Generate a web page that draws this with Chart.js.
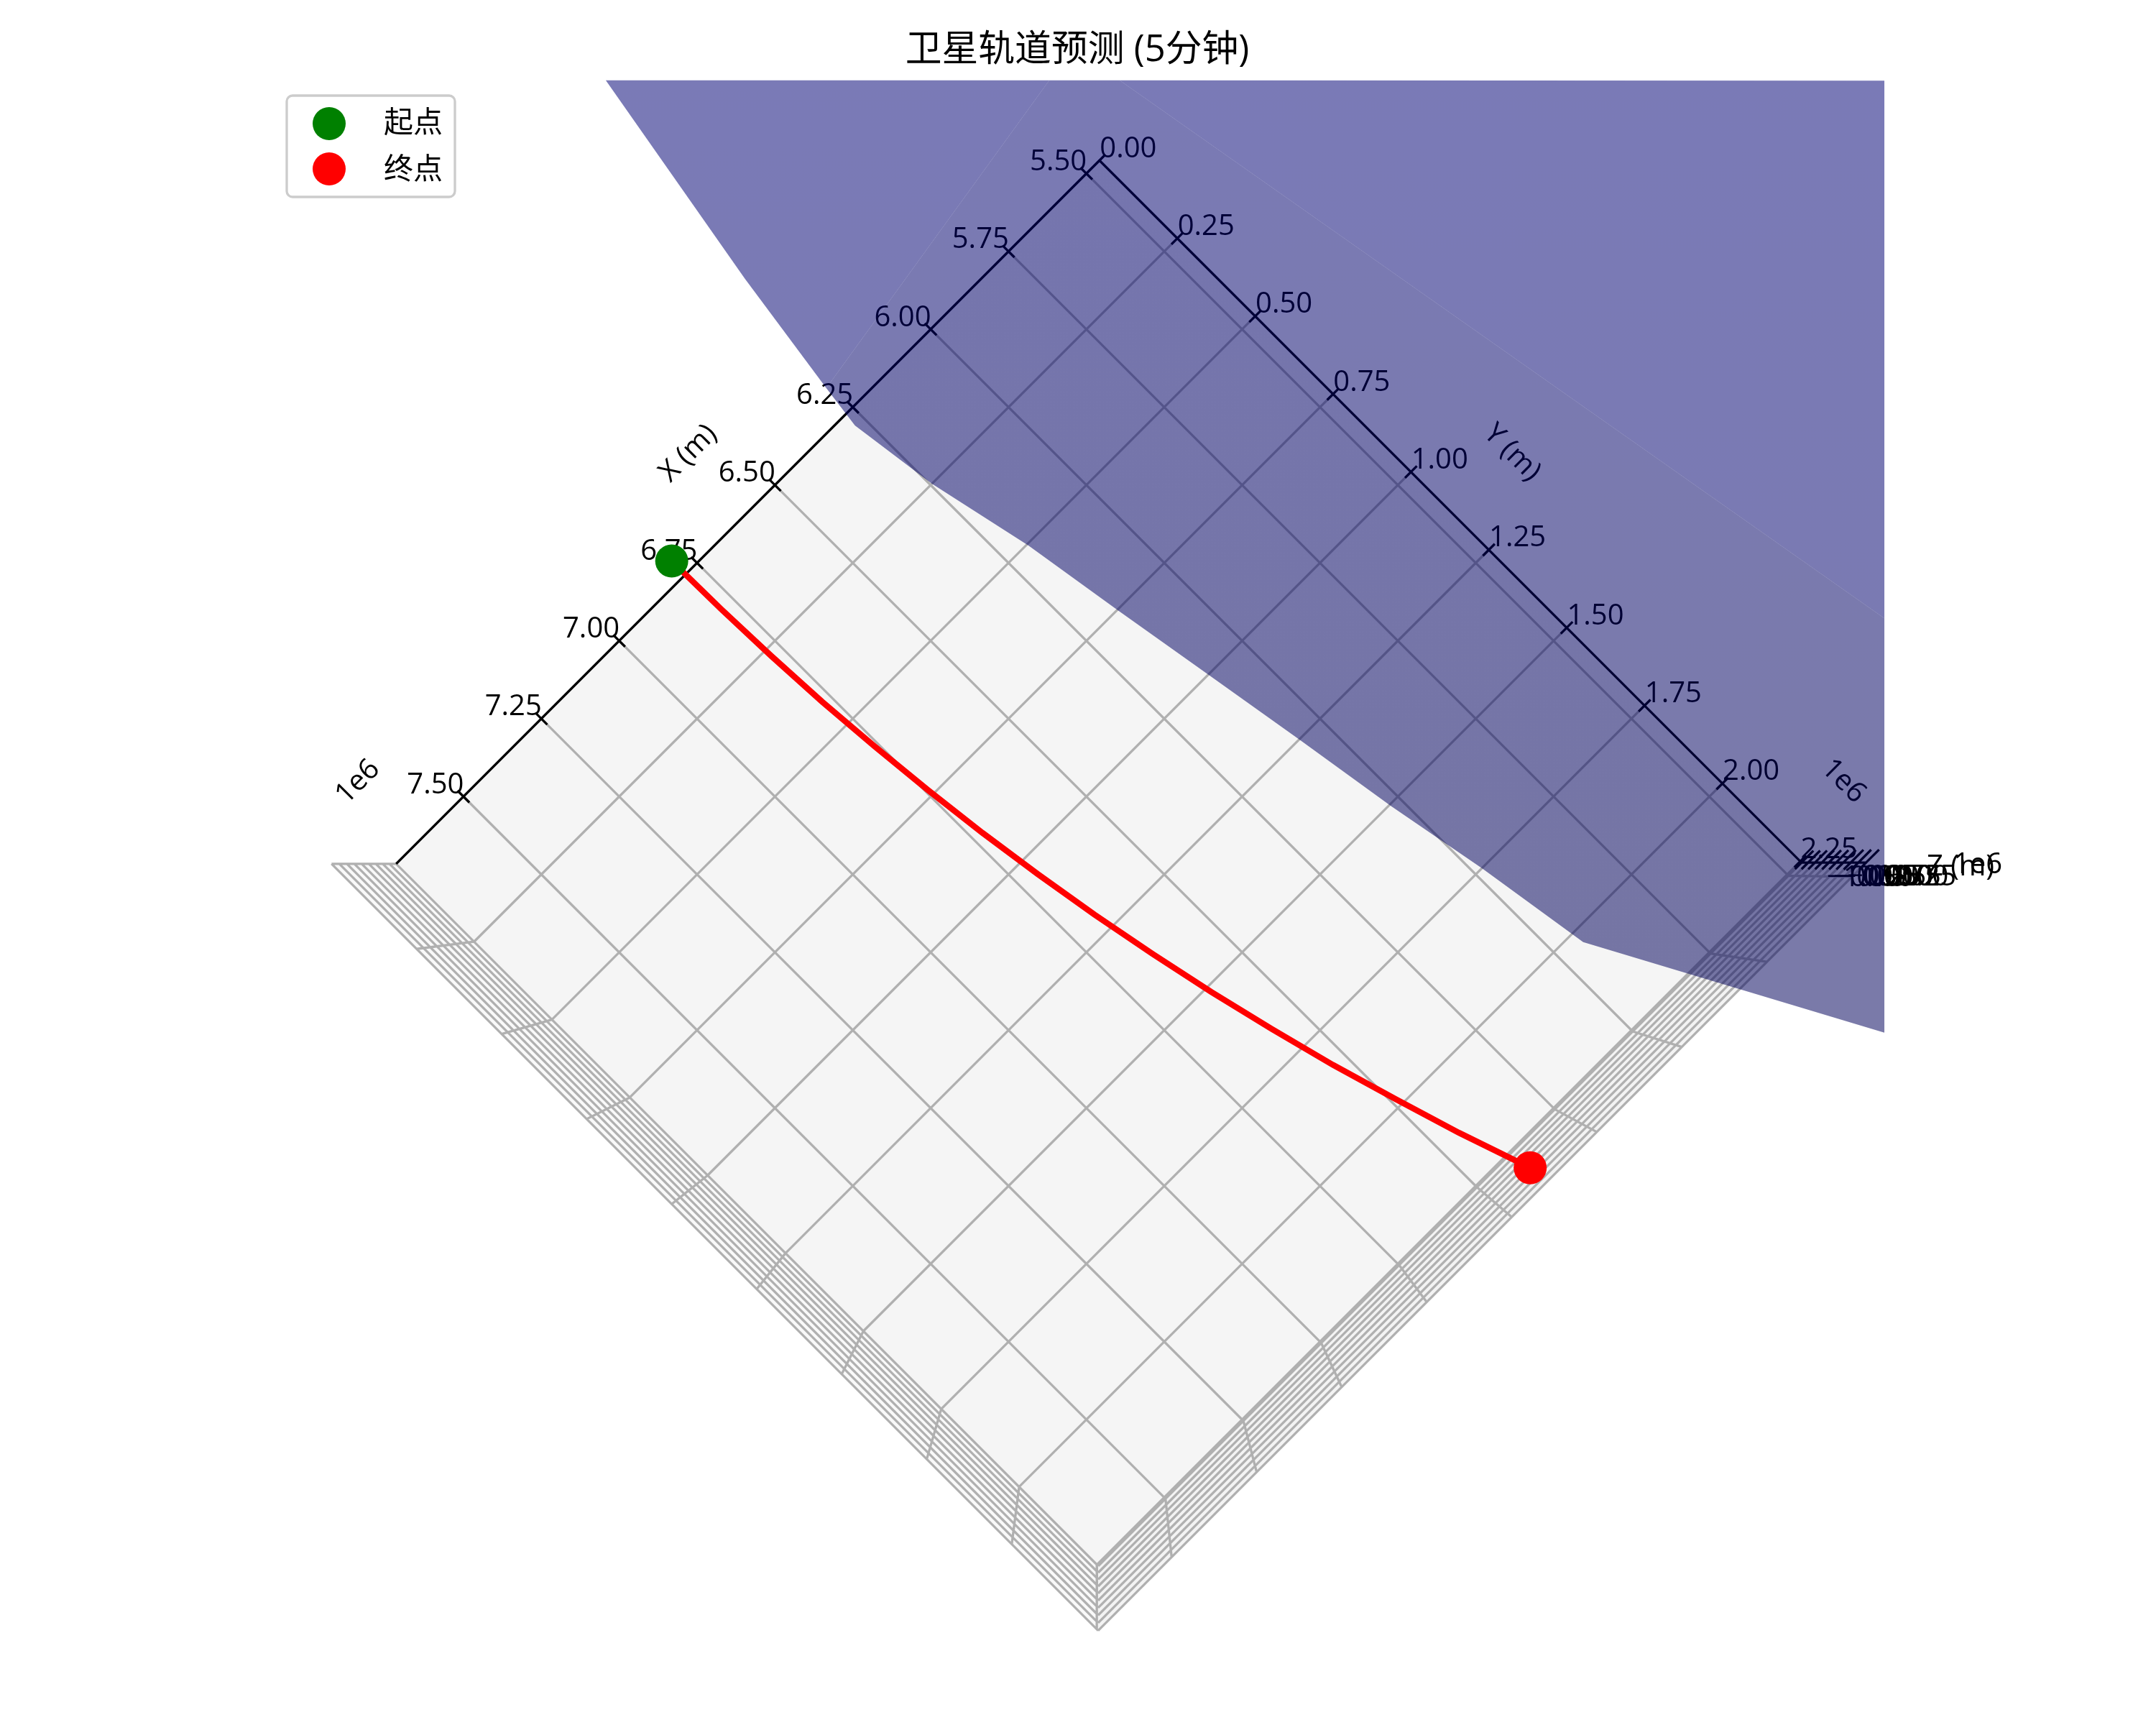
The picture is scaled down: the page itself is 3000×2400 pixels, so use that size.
<!DOCTYPE html>
<html>
<head>
<meta charset="utf-8">
<title>卫星轨道预测</title>
<script src="https://cdn.jsdelivr.net/npm/chart.js@4/dist/chart.umd.js"></script>
<style>
  html, body { margin: 0; background: #fff; }
  canvas { display: block; }
</style>
</head>
<body>
<canvas id="orbit" width="3000" height="2400"></canvas>
<script>
// all positions below are in units of 1e6 m
const xTicks = [5.5, 5.75, 6.0, 6.25, 6.5, 6.75, 7.0, 7.25, 7.5];
const yTicks = [0, 0.25, 0.5, 0.75, 1.0, 1.25, 1.5, 1.75, 2.0, 2.25];
const zTicks = [-1.0, -0.75, -0.5, -0.25, 0, 0.25, 0.5, 0.75, 1.0, 1.25];
const xTickLabels = ['5.50', '5.75', '6.00', '6.25', '6.50', '6.75', '7.00', '7.25', '7.50'];
const yTickLabels = ['0.00', '0.25', '0.50', '0.75', '1.00', '1.25', '1.50', '1.75', '2.00', '2.25'];
const zTickLabels = ['\u22121.00', '\u22120.75', '\u22120.50', '\u22120.25', '0.00', '0.25', '0.50', '0.75', '1.00', '1.25'];

const xLimits = [5.458, 7.716];
const yLimits = [0, 2.254];
const zLimits = [-1.0, 1.25];
const zPaneTop = 1.3;

const orbitX = [6.78, 6.778, 6.773, 6.765, 6.753, 6.738, 6.72, 6.698, 6.673, 6.644, 6.612, 6.576, 6.537, 6.493, 6.447, 6.391];
const orbitY = [0, 0.15, 0.3, 0.45, 0.6, 0.75, 0.9, 1.05, 1.2, 1.35, 1.5, 1.65, 1.8, 1.95, 2.1, 2.264];
const orbitZ = [0, 0, 0, 0, 0, 0, 0, 0, 0, 0, 0, 0, 0, 0, 0, 0];

// earth surface outline as it lands on the floor of the box, three visible shades
const earthWestX = [6.122, 6.217, 6.262, 5.41];
const earthWestY = [-0.921, -0.379, -0.073, -0.209];
const earthEastX = [5.297, 4.07, 4.933];
const earthEastY = [-0.096, 1.132, 1.995];
const earthMidX = [5.41, 6.262, 6.276, 6.246, 6.19, 6.15, 6.108, 6.066, 6.026, 5.98, 5.936, 5.598, 4.933, 5.297];
const earthMidY = [-0.209, -0.073, 0.033, 0.25, 0.504, 0.754, 1.004, 1.254, 1.505, 1.75, 2.031, 2.66, 1.995, -0.096];

const PX_PER_UNIT = 433.4;
const CENTER_PX = [1529, 1201];
const PERSPECTIVE = 0.0842;
const FONT = '"Open Sans", "Noto Sans CJK SC", sans-serif';
const GRID = '#b0b0b0';
const LINE_W = 3.3;
const TICK = 0.019;

const xMid = (xLimits[0] + xLimits[1]) / 2;
const yMid = (yLimits[0] + yLimits[1]) / 2;

// view straight down the z axis, x and y at 45 degrees, nearer levels look bigger
function project(x, y, z) {
  const t = (z - zLimits[0]) / (zLimits[1] - zLimits[0]);
  const s = 1 / (1 - PERSPECTIVE * t);
  return { x: s * (y - yMid - (x - xMid)), y: s * (x - xMid + (y - yMid)) };
}

function segments(list) {
  const out = [];
  list.forEach((seg) => {
    out.push(project(...seg[0]), project(...seg[1]), { x: NaN, y: NaN });
  });
  return out;
}

function polygon(xs, ys, z) {
  return xs.map((x, i) => project(x, ys[i], z));
}

function lineSet(id, data, color, width) {
  return { label: id, data, showLine: true, pointRadius: 0, borderColor: color, borderWidth: width, fill: false, tension: 0 };
}

function fillSet(id, data, color) {
  return { label: id, data, showLine: true, pointRadius: 0, borderWidth: 0, borderColor: 'transparent', backgroundColor: color, fill: 'shape', tension: 0 };
}

// the surface shading drifts from blue at the top to greyer at the bottom
const canvas = document.getElementById('orbit');
function shade(topY, topBlue, bottomY, bottomBlue) {
  const g = canvas.getContext('2d').createLinearGradient(0, topY, 0, bottomY);
  g.addColorStop(0, 'rgba(0,0,' + topBlue + ',0.52)');
  g.addColorStop(1, 'rgba(0,0,' + bottomBlue + ',0.52)');
  return g;
}

const [x0, x1] = xLimits;
const [y0, y1] = yLimits;
const [z0, z1] = zLimits;

const gridSegs = [];
xTicks.forEach((x) => {
  gridSegs.push([[x, y0, z0], [x, y1, z0]]);
  gridSegs.push([[x, y1, z0], [x, y1, z1]]);
});
yTicks.forEach((y) => {
  gridSegs.push([[x0, y, z0], [x1, y, z0]]);
  gridSegs.push([[x1, y, z0], [x1, y, z1]]);
});
zTicks.forEach((z) => {
  gridSegs.push([[x1, y0, z], [x1, y1, z]]);
  gridSegs.push([[x0, y1, z], [x1, y1, z]]);
});

const axisSegs = [
  [[x0, y0, z0], [x1, y0, z0]],
  [[x0, y0, z0], [x0, y1, z0]],
  [[x0, y1, z0], [x0, y1, z1]]
];
xTicks.forEach((x) => axisSegs.push([[x, y0 - TICK, z0], [x, y0 + TICK, z0]]));
yTicks.forEach((y) => axisSegs.push([[x0 - TICK, y, z0], [x0 + TICK, y, z0]]));
zTicks.forEach((z) => axisSegs.push([[x0 + 1.1 * TICK, y1, z], [x0 - 2 * TICK, y1, z]]));

const orbitPoints = orbitX.map((x, i) => project(x, orbitY[i], orbitZ[i]));
const last = orbitX.length - 1;

// pushed bottom to top, reversed below because Chart.js paints the first dataset last
const datasets = [
  fillSet('wallX', [project(x1, y0, z0), project(x1, y1, z0), project(x1, y1, zPaneTop), project(x1, y0, zPaneTop)], '#f9f9f9'),
  fillSet('wallY', [project(x0, y1, z0), project(x1, y1, z0), project(x1, y1, zPaneTop), project(x0, y1, zPaneTop)], '#f3f3f3'),
  fillSet('floor', polygon([x0, x1, x1, x0], [y0, y0, y1, y1], z0), '#f5f5f5'),
  lineSet('grid', segments(gridSegs), GRID, LINE_W),
  lineSet('axes', segments(axisSegs), '#000000', LINE_W),
  fillSet('earthWest', polygon(earthWestX, earthWestY, z0), shade(112, 116, 580, 110)),
  fillSet('earthEast', polygon(earthEastX, earthEastY, z0), shade(112, 116, 860, 108)),
  fillSet('earthMid', polygon(earthMidX, earthMidY, z0), shade(112, 112, 1300, 90)),
  lineSet('orbit', orbitPoints, '#ff0000', 8.3),
  {
    label: 'ends',
    data: [orbitPoints[0], orbitPoints[last]],
    showLine: false,
    pointRadius: 23,
    pointBorderWidth: 0,
    pointBackgroundColor: ['#008000', '#ff0000']
  }
].reverse();

function text(ctx, str, px, py, size, angle) {
  ctx.save();
  ctx.translate(px, py);
  ctx.rotate(((angle || 0) * Math.PI) / 180);
  ctx.font = size + 'px ' + FONT;
  ctx.fillStyle = '#000';
  ctx.textAlign = 'center';
  ctx.textBaseline = 'middle';
  ctx.fillText(str, 0, 0);
  ctx.restore();
}

const axisText = {
  id: 'axisText',
  // tick text sits under the earth surface, so it goes in right after the axes
  afterDatasetDraw(chart, args) {
    if (chart.data.datasets[args.index].label !== 'axes') return;
    const ctx = chart.ctx;
    const px = (p) => [chart.scales.x.getPixelForValue(p.x), chart.scales.y.getPixelForValue(p.y)];
    xTicks.forEach((x, i) => {
      const [a, b] = px(project(x, y0, z0));
      text(ctx, xTickLabels[i], a - 39, b - 16, 40);
    });
    yTicks.forEach((y, i) => {
      const [a, b] = px(project(x0, y, z0));
      text(ctx, yTickLabels[i], a + 40, b - 16, 40);
    });
    zTicks.forEach((z, i) => {
      const [a, b] = px(project(x0, y1, z));
      text(ctx, zTickLabels[i], a + 86, b + 21, 40);
    });
    text(ctx, 'X (m)', 958, 631, 40, -45);
    text(ctx, 'Y (m)', 2104, 630, 40, 45);
    text(ctx, 'Z (m)', 2728, 1207, 40);
    text(ctx, '1e6', 498, 1088, 40, -45);
    text(ctx, '1e6', 2565, 1087, 40, 45);
    text(ctx, '1e6', 2752, 1204, 40);
  },
  afterDraw(chart) {
    const ctx = chart.ctx;
    text(ctx, '卫星轨道预测 (5分钟)', 1499, 71, 50.8);

    ctx.save();
    ctx.beginPath();
    ctx.roundRect(399, 133, 234, 141, 8);
    ctx.fillStyle = 'rgba(255,255,255,0.8)';
    ctx.fill();
    ctx.lineWidth = 3.3;
    ctx.strokeStyle = '#cccccc';
    ctx.stroke();
    [['起点', '#008000', 172, 172], ['终点', '#ff0000', 235, 237]].forEach((row) => {
      ctx.beginPath();
      ctx.arc(458, row[2], 23, 0, Math.PI * 2);
      ctx.fillStyle = row[1];
      ctx.fill();
      text(ctx, row[0], 575, row[3], 41);
    });
    ctx.restore();
  }
};

new Chart(canvas, {
  type: 'scatter',
  data: { datasets },
  plugins: [axisText],
  options: {
    responsive: false,
    devicePixelRatio: 1,
    animation: false,
    layout: { padding: 0, autoPadding: false },
    plugins: { legend: { display: false }, title: { display: false }, tooltip: { enabled: false } },
    scales: {
      x: { type: 'linear', display: false, min: -CENTER_PX[0] / PX_PER_UNIT, max: (3000 - CENTER_PX[0]) / PX_PER_UNIT },
      y: { type: 'linear', display: false, reverse: true, min: -CENTER_PX[1] / PX_PER_UNIT, max: (2400 - CENTER_PX[1]) / PX_PER_UNIT }
    }
  }
});
</script>
</body>
</html>
